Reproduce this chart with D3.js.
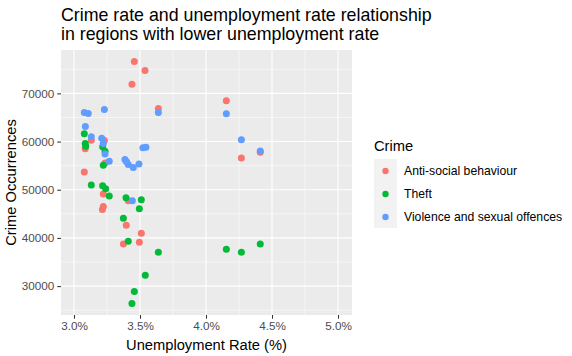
<!DOCTYPE html>
<html><head><meta charset="utf-8">
<script src="https://cdn.jsdelivr.net/npm/d3@7"></script>
<style>body{margin:0;background:#fff}svg{display:block}text{font-family:"Liberation Sans",Arial,sans-serif}</style>
</head><body><svg id="c" width="572" height="356"></svg>
<script>
const categories = ["Anti-social behaviour", "Theft", "Violence and sexual offences"];
const colors = ["#F8766D", "#00BA38", "#619CFF"];
const xTicks = [3.0, 3.5, 4.0, 4.5, 5.0];
const yTicks = [30000, 40000, 50000, 60000, 70000];
// unemployment rate (%), crime occurrences
const antiSocialX = [3.457, 3.538, 3.439, 3.639, 4.154, 4.268, 4.411, 3.131, 3.085, 3.230, 3.235, 3.078, 3.222, 3.222, 3.215, 3.411, 3.396, 3.510, 3.374, 3.495];
const antiSocialY = [76600, 74730, 71870, 66875, 68480, 56600, 57780, 60270, 58480, 60210, 55560, 53690, 49100, 46500, 45900, 47710, 42650, 40980, 38750, 39100];
const theftX = [3.078, 3.089, 3.085, 3.217, 3.235, 3.222, 3.131, 3.217, 3.240, 3.267, 3.394, 3.510, 3.495, 3.374, 3.411, 3.639, 3.540, 3.457, 3.439, 4.154, 4.268, 4.411];
const theftY = [61600, 59020, 59600, 58900, 57980, 55060, 50980, 50830, 50210, 48680, 48330, 47920, 46040, 44100, 39310, 37020, 32230, 28900, 26400, 37650, 37020, 38750];
const violenceX = [3.078, 3.108, 3.230, 3.639, 4.154, 4.268, 4.411, 3.086, 3.131, 3.210, 3.222, 3.235, 3.267, 3.386, 3.398, 3.411, 3.449, 3.492, 3.522, 3.545, 3.442];
const violenceY = [66040, 65830, 66670, 66040, 65770, 60350, 58060, 63125, 60980, 60700, 59580, 57440, 55900, 56250, 55800, 55210, 54600, 55350, 58690, 58820, 47710];

const seriesX = [antiSocialX, theftX, violenceX];
const seriesY = [antiSocialY, theftY, violenceY];

const svg = d3.select("#c");
const P = {l: 61, r: 352, t: 50, b: 315};
const x = d3.scaleLinear().domain([2.9015, 5.106]).range([P.l, P.r]);
const y = d3.scaleLinear().domain([24000, 79000]).range([P.b, P.t]);

svg.append("rect").attr("x", P.l).attr("y", P.t).attr("width", P.r - P.l).attr("height", P.b - P.t).attr("fill", "#EBEBEB");
const g = svg.append("g");
// minor grid
[3.25, 3.75, 4.25, 4.75].forEach(v => g.append("line").attr("x1", x(v)).attr("x2", x(v)).attr("y1", P.t).attr("y2", P.b).attr("stroke", "#fff").attr("stroke-width", 0.53));
[25000, 35000, 45000, 55000, 65000, 75000].forEach(v => g.append("line").attr("y1", y(v)).attr("y2", y(v)).attr("x1", P.l).attr("x2", P.r).attr("stroke", "#fff").attr("stroke-width", 0.53));
xTicks.forEach(v => g.append("line").attr("x1", x(v)).attr("x2", x(v)).attr("y1", P.t).attr("y2", P.b).attr("stroke", "#fff").attr("stroke-width", 1.07));
yTicks.forEach(v => g.append("line").attr("y1", y(v)).attr("y2", y(v)).attr("x1", P.l).attr("x2", P.r).attr("stroke", "#fff").attr("stroke-width", 1.07));

// axes
const xAxis = svg.append("g").attr("transform", `translate(0,${P.b})`)
  .call(d3.axisBottom(x).tickValues(xTicks).tickSize(3.7).tickPadding(3).tickFormat(d => d.toFixed(1) + "%"));
const yAxis = svg.append("g").attr("transform", `translate(${P.l},0)`)
  .call(d3.axisLeft(y).tickValues(yTicks).tickSize(3.7).tickPadding(3).tickFormat(d3.format("d")));
[xAxis, yAxis].forEach(a => {
  a.select(".domain").remove();
  a.selectAll(".tick line").attr("stroke", "#333").attr("stroke-width", 1.07);
  a.selectAll(".tick text").attr("fill", "#4D4D4D").style("font-size", "11.7px").style("font-family", '"Liberation Sans",Arial,sans-serif');
});

// points
seriesX.forEach((xs, i) => {
  svg.append("g").selectAll("circle").data(xs.map((v, j) => [v, seriesY[i][j]])).join("circle")
    .attr("cx", d => x(d[0])).attr("cy", d => y(d[1])).attr("r", 3.5).attr("fill", colors[i]);
});

// titles
svg.append("text").attr("x", 61).attr("y", 21).style("font-size", "17.8px").attr("fill", "#000").text("Crime rate and unemployment rate relationship");
svg.append("text").attr("x", 61).attr("y", 39.5).style("font-size", "17.8px").attr("fill", "#000").text("in regions with lower unemployment rate");
svg.append("text").attr("x", (P.l + P.r) / 2).attr("y", 350).attr("text-anchor", "middle").style("font-size", "14.7px").text("Unemployment Rate (%)");
svg.append("text").attr("transform", `translate(16,${(P.t + P.b) / 2}) rotate(-90)`).attr("text-anchor", "middle").style("font-size", "14.7px").text("Crime Occurrences");

// legend
const lg = svg.append("g").attr("transform", "translate(374,0)");
lg.append("text").attr("x", 0).attr("y", 151).style("font-size", "14.7px").text("Crime");
categories.forEach((c, i) => {
  const ky = 159 + i * 23;
  lg.append("rect").attr("x", 0).attr("y", ky).attr("width", 23).attr("height", 23).attr("fill", "#F2F2F2");
  lg.append("circle").attr("cx", 11.5).attr("cy", ky + 12).attr("r", 3.2).attr("fill", colors[i]);
  lg.append("text").attr("x", 30).attr("y", ky + 16).style("font-size", "12.2px").attr("fill", "#000").text(c);
});
</script></body></html>
